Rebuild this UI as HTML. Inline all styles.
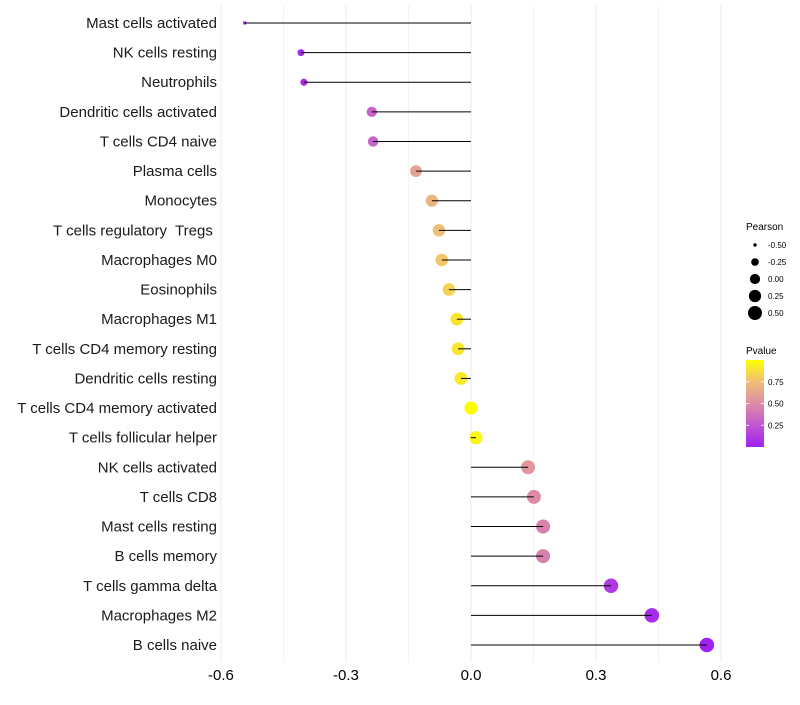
<!DOCTYPE html>
<html><head><meta charset="utf-8"><style>
body{margin:0;background:#fff;font-family:"Liberation Sans",sans-serif}
text{white-space:pre}
</style></head><body>
<svg id="chart" width="800" height="700" xmlns="http://www.w3.org/2000/svg"></svg>
<script>
const categories=["Mast cells activated","NK cells resting","Neutrophils","Dendritic cells activated","T cells CD4 naive","Plasma cells","Monocytes","T cells regulatory  Tregs ","Macrophages M0","Eosinophils","Macrophages M1","T cells CD4 memory resting","Dendritic cells resting","T cells CD4 memory activated","T cells follicular helper","NK cells activated","T cells CD8","Mast cells resting","B cells memory","T cells gamma delta","Macrophages M2","B cells naive"];
const pearson=[-0.543,-0.408,-0.401,-0.238,-0.235,-0.132,-0.094,-0.077,-0.07,-0.053,-0.034,-0.031,-0.024,0.0,0.012,0.137,0.151,0.173,0.173,0.336,0.434,0.566];
const pvalue=[0.01,0.05,0.06,0.3,0.3,0.6,0.7,0.75,0.78,0.83,0.9,0.9,0.92,0.99,0.96,0.55,0.5,0.45,0.45,0.12,0.05,0.01];
const xTicks=[-0.6,-0.3,0.0,0.3,0.6];
const xTickLabels=["-0.6","-0.3","0.0","0.3","0.6"];
const sizeLegend=[-0.5,-0.25,0,0.25,0.5];
const sizeLegendLabels=["-0.50","-0.25","0.00","0.25","0.50"];
const colorTicks=[0.25,0.5,0.75];
const colorTickLabels=["0.25","0.50","0.75"];

const NS="http://www.w3.org/2000/svg";
const svg=document.getElementById('chart');
function mk(t,a,p){const e=document.createElementNS(NS,t);for(const k in a)e.setAttribute(k,a[k]);(p||svg).appendChild(e);return e;}
const x=v=>471+v*416.7;
const y=i=>23+i*(622/21);
const rad=v=>{const t=Math.max(0,Math.min(1,(0.566-v)/1.109));return 7.3-5.6*t*t*t;};
const legRad=v=>Math.sqrt(Math.max(0.5,26+46*v));
const stops=[[0,[160,32,240]],[0.25,[193,87,208]],[0.5,[221,140,166]],[0.75,[240,190,120]],[1,[255,255,0]]];
function col(p){for(let i=1;i<stops.length;i++){if(p<=stops[i][0]){const a=stops[i-1],b=stops[i];const t=(p-a[0])/(b[0]-a[0]);const c=a[1].map((v,k)=>Math.round(v+(b[1][k]-v)*t));return `rgb(${c})`;}}return 'rgb(255,255,0)';}

[-0.6,-0.45,-0.3,-0.15,0,0.15,0.3,0.45,0.6].forEach(v=>{
 const g=mk('line',{x1:x(v),x2:x(v),y1:5,y2:662,stroke:'#ebebeb','stroke-width':Math.abs(v*100)%30<1?1:0.6});
 
 
});
xTicks.forEach((v,i)=>{
 const t=mk('text',{x:x(v),y:680,'text-anchor':'middle','font-size':15,fill:'#000'});
 t.textContent=xTickLabels[i];
 
 
});
categories.forEach((c,i)=>{
 const t=mk('text',{x:217,y:y(i)+5,'text-anchor':'end','font-size':15,fill:'#1a1a1a'});
 t.textContent=c;
 
 
 const d=mk('circle',{cx:x(pearson[i]),cy:y(i),r:rad(pearson[i]),fill:col(pvalue[i])});
 
 
 const l=mk('line',{x1:x(0),x2:x(pearson[i]),y1:y(i),y2:y(i),stroke:'#000','stroke-width':1});
 
 
});
const lt=mk('text',{x:746,y:230,'font-size':10,fill:'#000'});lt.textContent='Pearson';


sizeLegend.forEach((v,i)=>{
 const cy=245+i*17;
 const c=mk('circle',{cx:755,cy:cy,r:legRad(v),fill:'#000'});
 
 
 const t=mk('text',{x:768,y:cy+3,'font-size':8,fill:'#000'});t.textContent=sizeLegendLabels[i];
 
 
});
const ct=mk('text',{x:746,y:354,'font-size':10,fill:'#000'});ct.textContent='Pvalue';


const defs=mk('defs',{});const lg=mk('linearGradient',{id:'pg',x1:0,y1:1,x2:0,y2:0},defs);
stops.forEach(s=>mk('stop',{offset:s[0],'stop-color':`rgb(${s[1]})`},lg));
const cb=mk('rect',{x:746,y:360,width:18,height:87,fill:'url(#pg)'});


colorTicks.forEach((v,i)=>{
 const cy=447-v*87;
 mk('line',{x1:746,x2:749,y1:cy,y2:cy,stroke:'#fff','stroke-width':0.8});
 mk('line',{x1:761,x2:764,y1:cy,y2:cy,stroke:'#fff','stroke-width':0.8});
 const t=mk('text',{x:768,y:cy+3,'font-size':8,fill:'#000'});t.textContent=colorTickLabels[i];
 
 
});
</script>
</body></html>
